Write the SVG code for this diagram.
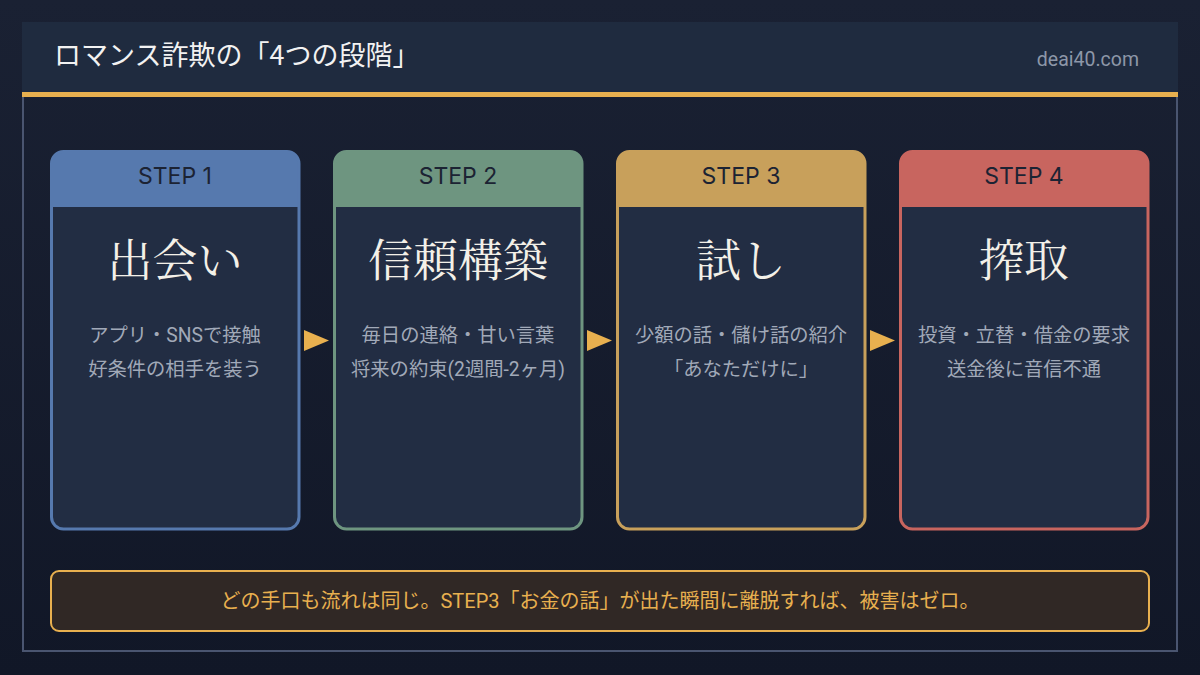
<svg xmlns="http://www.w3.org/2000/svg" width="1200" height="675" viewBox="0 0 1200 675">
  <defs>
    <linearGradient id="bg" x1="0" y1="0" x2="0" y2="1">
      <stop offset="0" stop-color="#1a2133"/>
      <stop offset="1" stop-color="#111727"/>
    </linearGradient>
    <style>
      .title{font-family:"Noto Sans CJK JP","Noto Sans",sans-serif;font-size:27px;fill:#f2f2f2}
      .site{font-family:Roboto,"Noto Sans",sans-serif;font-size:19.5px;fill:#8d97a8}
      .step{font-family:Inter,Roboto,"Noto Sans",sans-serif;font-size:23px;fill:#1c2333;text-anchor:middle}
      .big{font-family:"Noto Serif CJK JP","Noto Serif JP","IPAexMincho","IPAMincho",serif;font-size:45px;fill:#f3f0e8;text-anchor:middle}
      .desc{font-family:Roboto,"Noto Sans CJK JP",sans-serif;font-size:19.3px;fill:#a1a9b8;text-anchor:middle}
      .body{fill:#222d43}
      .note{font-family:Roboto,"Noto Sans CJK JP",sans-serif;font-size:20px;fill:#e8b04f;text-anchor:middle}
      .arrow{fill:#e8b04f}
    </style>
  </defs>
  <rect width="1200" height="675" fill="url(#bg)"/>
  <rect x="23" y="23" width="1154" height="628" fill="none" stroke="#4a5570" stroke-width="2"/>
  <g id="header">
    <rect x="22" y="22" width="1156" height="70" fill="#1f2b3f"/>
    <rect x="22" y="92" width="1156" height="5" fill="#e8b04f"/>
    <text class="title" x="54" y="65">ロマンス詐欺の「4つの段階」</text>
    <text class="site" x="1139" y="66" text-anchor="end">deai40.com</text>
  </g>
  <g id="step1">
    <path d="M51.5,207 V163 a12,12 0 0 1 12,-12 H287 a12,12 0 0 1 12,12 V207 Z" fill="#5679ae"/>
    <path d="M51.5,207 H299 V517 a12,12 0 0 1 -12,12 H63.5 a12,12 0 0 1 -12,-12 Z" class="body"/>
    <rect x="51.5" y="151.5" width="247.5" height="377.5" rx="12" fill="none" stroke="#5679ae" stroke-width="3"/>
    <text class="step" x="175" y="184">STEP 1</text>
    <text class="big" x="175" y="277">出会い</text>
    <text class="desc" x="175" y="342">アプリ・SNSで接触</text>
    <text class="desc" x="175" y="376">好条件の相手を装う</text>
  </g>
  <g id="step2">
    <path d="M334.5,207 V163 a12,12 0 0 1 12,-12 H570 a12,12 0 0 1 12,12 V207 Z" fill="#6e9580"/>
    <path d="M334.5,207 H582 V517 a12,12 0 0 1 -12,12 H346.5 a12,12 0 0 1 -12,-12 Z" class="body"/>
    <rect x="334.5" y="151.5" width="247.5" height="377.5" rx="12" fill="none" stroke="#6e9580" stroke-width="3"/>
    <text class="step" x="458" y="184">STEP 2</text>
    <text class="big" x="458" y="277">信頼構築</text>
    <text class="desc" x="458" y="342">毎日の連絡・甘い言葉</text>
    <text class="desc" x="458" y="376">将来の約束(2週間-2ヶ月)</text>
  </g>
  <g id="step3">
    <path d="M617.5,207 V163 a12,12 0 0 1 12,-12 H853 a12,12 0 0 1 12,12 V207 Z" fill="#c8a05b"/>
    <path d="M617.5,207 H865 V517 a12,12 0 0 1 -12,12 H629.5 a12,12 0 0 1 -12,-12 Z" class="body"/>
    <rect x="617.5" y="151.5" width="247.5" height="377.5" rx="12" fill="none" stroke="#c8a05b" stroke-width="3"/>
    <text class="step" x="741" y="184">STEP 3</text>
    <text class="big" x="741" y="277">試し</text>
    <text class="desc" x="741" y="342">少額の話・儲け話の紹介</text>
    <text class="desc" x="741" y="376">「あなただけに」</text>
  </g>
  <g id="step4">
    <path d="M900.5,207 V163 a12,12 0 0 1 12,-12 H1136 a12,12 0 0 1 12,12 V207 Z" fill="#c8655f"/>
    <path d="M900.5,207 H1148 V517 a12,12 0 0 1 -12,12 H912.5 a12,12 0 0 1 -12,-12 Z" class="body"/>
    <rect x="900.5" y="151.5" width="247.5" height="377.5" rx="12" fill="none" stroke="#c8655f" stroke-width="3"/>
    <text class="step" x="1024" y="184">STEP 4</text>
    <text class="big" x="1024" y="277">搾取</text>
    <text class="desc" x="1024" y="342">投資・立替・借金の要求</text>
    <text class="desc" x="1024" y="376">送金後に音信不通</text>
  </g>
  <g id="connectors">
    <polygon class="arrow" points="304,330 329,340.5 304,351"/>
    <polygon class="arrow" points="587,330 612,340.5 587,351"/>
    <polygon class="arrow" points="870,330 895,340.5 870,351"/>
  </g>
  <g id="note">
    <rect x="51" y="571" width="1098" height="60" rx="8" fill="#302825" stroke="#e8b04f" stroke-width="2"/>
    <text class="note" x="600" y="608">どの手口も流れは同じ。STEP3「お金の話」が出た瞬間に離脱すれば、被害はゼロ。</text>
  </g>
</svg>
